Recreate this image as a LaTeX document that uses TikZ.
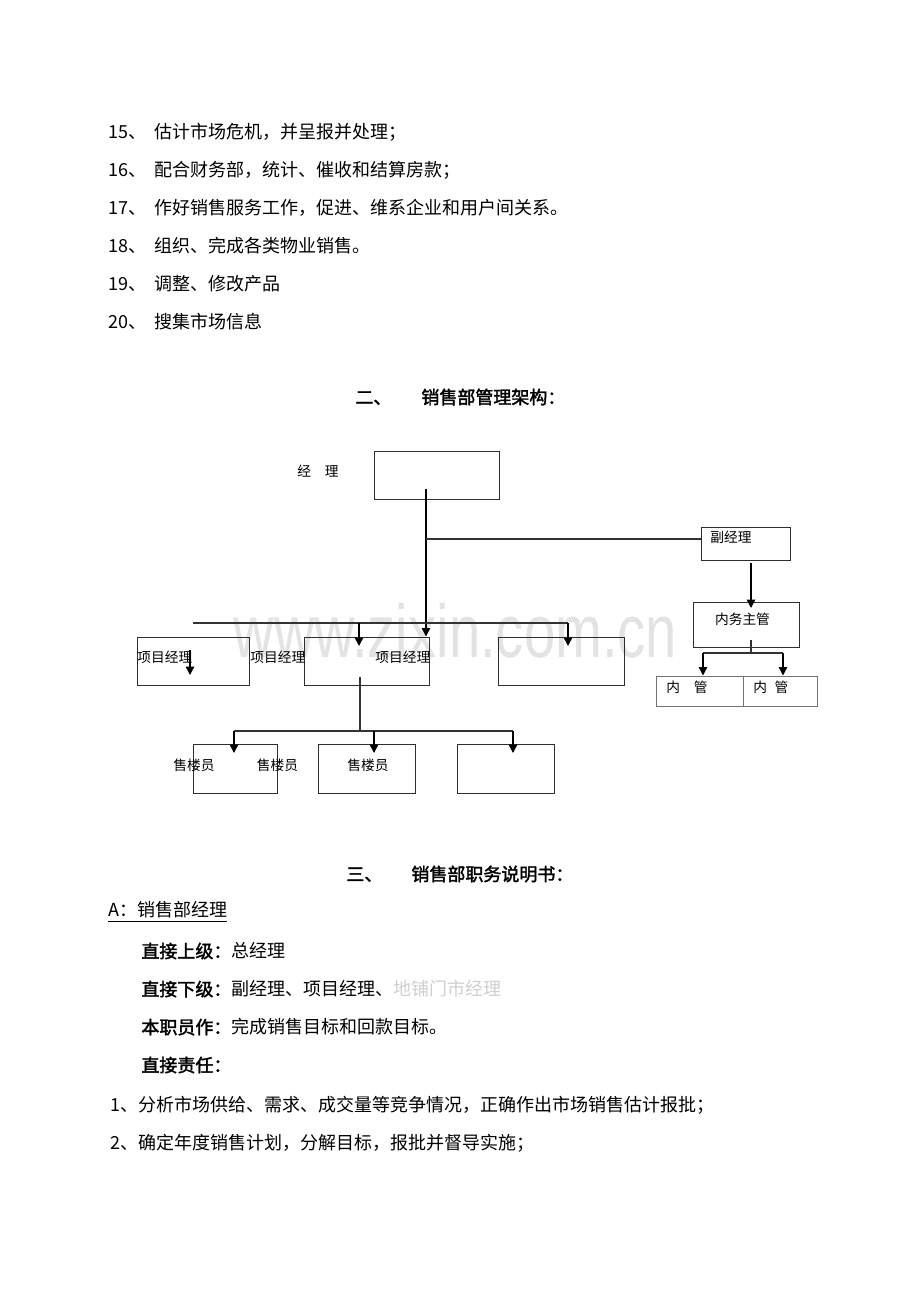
\documentclass[tikz,border=0pt]{standalone}
\usepackage{fontspec}
\usepackage{graphicx}
\usetikzlibrary{arrows.meta,positioning}
\newfontfamily\cjk{Noto Sans CJK SC}
\newfontfamily\cjkb{Noto Sans CJK SC}[FakeBold=2]
\newfontfamily\wmfont{Liberation Sans}
\newcommand\bodytext{\cjk\fontsize{9}{11}\selectfont}
\newcommand\boldtext{\cjkb\fontsize{9}{11}\selectfont}
\newcommand\chartfont{\cjk\fontsize{6.85}{8}\selectfont}
\definecolor{boxline}{HTML}{2E2E2E}
\definecolor{faded}{HTML}{CFCFCF}
\tikzset{
  box/.style={draw=boxline,line width=0.5pt,rectangle,inner sep=0pt},
  lightbox/.style={box,draw=black!55},
  link/.style={draw=black!80,line width=0.65pt},
  arrowlink/.style={draw=black,line width=0.7pt,-{Triangle[width=4.2pt,length=4.2pt]}},
  chartlbl/.style={anchor=west,inner sep=0pt,font=\chartfont},
  para/.style={anchor=west,inner sep=0pt,font=\bodytext},
}
\begin{document}
\begin{tikzpicture}[x=0.5pt,y=-0.5pt]
    \fill[white] (0,0) rectangle (920,1302);
    \useasboundingbox (0,0) rectangle (920,1302);
    % list of duties
    \node[para] (l15) at (108,132) {\makebox[23pt][l]{15、}估计市场危机，并呈报并处理；};
    \node[para] (l16) at (108,170) {\makebox[23pt][l]{16、}配合财务部，统计、催收和结算房款；};
    \node[para] (l17) at (108,208) {\makebox[23pt][l]{17、}作好销售服务工作，促进、维系企业和用户间关系。};
    \node[para] (l18) at (108,246) {\makebox[23pt][l]{18、}组织、完成各类物业销售。};
    \node[para] (l19) at (108,284) {\makebox[23pt][l]{19、}调整、修改产品};
    \node[para] (l20) at (108,322) {\makebox[23pt][l]{20、}搜集市场信息};
    \node[para,font=\boldtext] (sec2) at (355,397) {\makebox[33pt][l]{二、}销售部管理架构：};
    % watermark
    \node[anchor=base west,inner sep=0pt,text=black!11] (wm) at (233,657)
      {\wmfont\fontsize{37.5}{40}\selectfont\scalebox{0.75}[1]{www.zixin.com.cn}};
    % chart boxes
    \node[box,minimum width=62.5pt,minimum height=24pt] (mgr) at (436.5,475) {};
    \node[chartlbl] (mgrlbl) at (297,471) {经\hspace{1em}理};
    \node[box,minimum width=44.5pt,minimum height=16.5pt] (vice) at (745.5,543.5) {};
    \node[chartlbl] (vicelbl) at (710,537) {副经理};
    \node[box,minimum width=53pt,minimum height=22.5pt] (office) at (746,624.5) {};
    \node[chartlbl,anchor=center] (officelbl) at (742.5,619) {内务主管};
    \node[lightbox,minimum width=43.5pt,minimum height=15pt] (clerkA) at (699.5,691) {};
    \node[lightbox,minimum width=37pt,minimum height=15pt] (clerkB) at (780,691) {};
    \node[chartlbl] (clerkAlbl) at (666,687) {内\hspace{1em}管};
    \node[chartlbl] (clerkBlbl) at (753,687) {内\hspace{0.55em}管};
    \node[box,minimum width=56pt,minimum height=24pt] (projA) at (193,661) {};
    \node[box,minimum width=62.5pt,minimum height=24pt] (projB) at (366.5,661) {};
    \node[box,minimum width=63pt,minimum height=24pt] (projC) at (561,661) {};
    \node[chartlbl] (projAlbl) at (137,657) {项目经理};
    \node[chartlbl] (projXlbl) at (250,657) {项目经理};
    \node[chartlbl] (projBlbl) at (375,657) {项目经理};
    \node[box,minimum width=42pt,minimum height=24.5pt] (salesA) at (235,768.5) {};
    \node[box,minimum width=48.5pt,minimum height=24.5pt] (salesB) at (366.5,768.5) {};
    \node[box,minimum width=48.5pt,minimum height=24.5pt] (salesC) at (505.5,768.5) {};
    \node[chartlbl] (salesAlbl) at (173,765) {售楼员};
    \node[chartlbl] (salesXlbl) at (256.5,765) {售楼员};
    \node[chartlbl] (salesBlbl) at (347,765) {售楼员};
    % joints
    \coordinate (mgrout) at (426,489);
    \coordinate (vicejoin) at (426,539);
    \coordinate (barL) at (193,623);
    \coordinate (barB) at (359,623);
    \coordinate (barC) at (568,623);
    \coordinate (tipB) at (359,646);
    \coordinate (tipC) at (568,646);
    \coordinate (projAin) at (190,650);
    \coordinate (projAtip) at (190,675);
    \coordinate (viceout) at (751,563);
    \coordinate (officetip) at (751,608);
    \coordinate (officeout) at (751,640);
    \coordinate (clerkjoin) at (751,653);
    \coordinate (clerkL) at (703,653);
    \coordinate (clerkR) at (783,653);
    \coordinate (projBout) at (360,677);
    \coordinate (salesjoin) at (360,731);
    \coordinate (salesL) at (234,731);
    \coordinate (salesM) at (374,731);
    \coordinate (salesR) at (513,731);
    \coordinate (tipSA) at (234,753);
    \coordinate (tipSB) at (374,753);
    \coordinate (tipSC) at (513,753);
    % connectors
    \draw[arrowlink] (mgrout) -- (mgrout |- projB.north);
    \draw[link] (vicejoin) -- (vicejoin -| vice.west);
    \draw[link] (barL) -- (barC);
    \draw[arrowlink] (barB) -- (tipB);
    \draw[arrowlink] (barC) -- (tipC);
    \draw[arrowlink] (projAin) -- (projAtip);
    \draw[arrowlink] (viceout) -- (officetip);
    \draw[link] (officeout) -- (clerkjoin);
    \draw[link] (clerkL) -- (clerkR);
    \draw[arrowlink] (clerkL) -- (clerkL |- clerkA.north);
    \draw[arrowlink] (clerkR) -- (clerkR |- clerkB.north);
    \draw[link] (projBout) -- (salesjoin);
    \draw[link] (salesL) -- (salesR);
    \draw[arrowlink] (salesL) -- (tipSA);
    \draw[arrowlink] (salesM) -- (tipSB);
    \draw[arrowlink] (salesR) -- (tipSC);
    % job description
    \node[para,font=\boldtext] (sec3) at (346,874) {\makebox[32.5pt][l]{三、}销售部职务说明书：};
    \node[para] (posA) at (108,912) {\underline{A：销售部经理}};
    \node[para] (up) at (141,951) {{\boldtext 直接上级：}总经理};
    \node[para] (down) at (141,989) {{\boldtext 直接下级：}副经理、项目经理、\textcolor{faded}{地铺门市经理}};
    \node[para] (duty) at (141,1027) {{\boldtext 本职员作：}完成销售目标和回款目标。};
    \node[para] (resp) at (141,1065) {{\boldtext 直接责任：}};
    \node[para] (r1) at (110,1105) {1、分析市场供给、需求、成交量等竞争情况，正确作出市场销售估计报批；};
    \node[para] (r2) at (110,1143) {2、确定年度销售计划，分解目标，报批并督导实施；};
\end{tikzpicture}
\end{document}
